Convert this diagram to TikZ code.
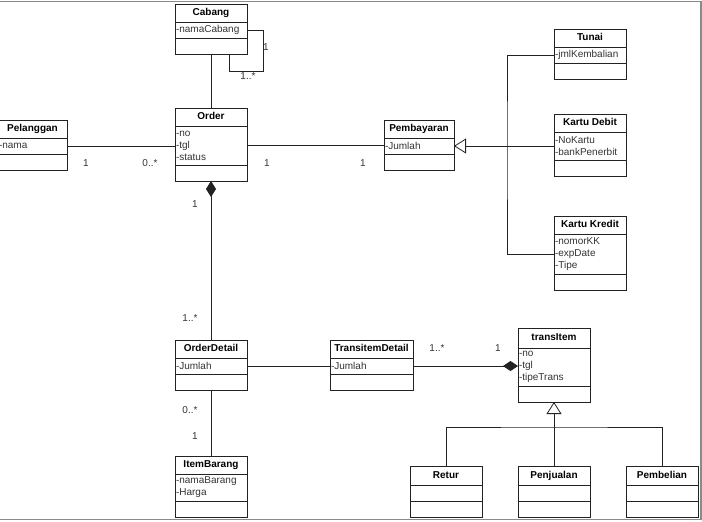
\documentclass[tikz,border=0pt]{standalone}
\usepackage{fontspec}
\setmainfont{Liberation Sans}
\usetikzlibrary{positioning, arrows.meta}
\definecolor{linegray}{HTML}{222222}
\definecolor{textgray}{HTML}{333333}
\definecolor{framegray}{HTML}{8A8A8A}
\tikzset{
    umltitle/.style={rectangle, draw=linegray, anchor=north west, font=\bfseries\fontsize{10}{12}\selectfont, text=black, minimum width=#1, minimum height=18pt, inner sep=0pt, outer sep=0pt, text height=7.5pt, text depth=2pt},
    umltitle/.default=72pt,
    umlattr/.style={rectangle, draw=linegray, font=\fontsize{10}{12}\selectfont, text=textgray, align=left, text width=#1, inner xsep=1pt, inner ysep=0pt, outer sep=0pt, minimum height=16pt},
    umlattr/.default=70pt,
    umlmeth/.style={rectangle, draw=linegray, minimum width=#1, minimum height=16pt, inner sep=0pt, outer sep=0pt},
    umlmeth/.default=72pt,
    mult/.style={font=\fontsize{10}{12}\selectfont, text=textgray, inner sep=0pt},
    assoc/.style={draw=linegray, line width=0.8pt},
}

\begin{document}
\begin{tikzpicture}[x=1pt, y=-1pt, line width=0.8pt]
        \useasboundingbox (0,0) rectangle (702,522);
        \clip (0,0) rectangle (702,522);

        % kelas
        \node[umltitle] (cabang) at (175,4) {Cabang};
        \node[umlattr, below=0pt of cabang] (cabang-a) {-namaCabang};
        \node[umlmeth, below=0pt of cabang-a] (cabang-m) {};

        \node[umltitle] (order) at (175,108) {Order};
        \node[umlattr, minimum height=39pt, below=0pt of order] (order-a) {-no\\-tgl\\-status};
        \node[umlmeth, below=0pt of order-a] (order-m) {};

        \node[umltitle=69pt] (pelanggan) at (-2,120) {Pelanggan};
        \node[umlattr=67pt, below=0pt of pelanggan] (pelanggan-a) {-nama};
        \node[umlmeth=69pt, below=0pt of pelanggan-a] (pelanggan-m) {};

        \node[umltitle=70pt] (pembayaran) at (384,120) {Pembayaran};
        \node[umlattr=68pt, below=0pt of pembayaran] (pembayaran-a) {-Jumlah};
        \node[umlmeth=70pt, below=0pt of pembayaran-a] (pembayaran-m) {};

        \node[umltitle] (tunai) at (554,29) {Tunai};
        \node[umlattr, below=0pt of tunai] (tunai-a) {-jmlKembalian};
        \node[umlmeth, below=0pt of tunai-a] (tunai-m) {};

        \node[umltitle] (debit) at (554,114) {Kartu Debit};
        \node[umlattr, minimum height=28pt, below=0pt of debit] (debit-a) {-NoKartu\\-bankPenerbit};
        \node[umlmeth, below=0pt of debit-a] (debit-m) {};

        \node[umltitle] (kredit) at (554,216) {Kartu Kredit};
        \node[umlattr, minimum height=40pt, below=0pt of kredit] (kredit-a) {-nomorKK\\-expDate\\-Tipe};
        \node[umlmeth, below=0pt of kredit-a] (kredit-m) {};

        \node[umltitle] (orderdetail) at (175,340) {OrderDetail};
        \node[umlattr, below=0pt of orderdetail] (orderdetail-a) {-Jumlah};
        \node[umlmeth, below=0pt of orderdetail-a] (orderdetail-m) {};

        \node[umltitle] (itembarang) at (175,456) {ItemBarang};
        \node[umlattr, minimum height=27pt, below=0pt of itembarang] (itembarang-a) {-namaBarang\\-Harga};
        \node[umlmeth, below=0pt of itembarang-a] (itembarang-m) {};

        \node[umltitle=83pt] (transitemdetail) at (330,340) {TransitemDetail};
        \node[umlattr=81pt, below=0pt of transitemdetail] (transitemdetail-a) {-Jumlah};
        \node[umlmeth=83pt, below=0pt of transitemdetail-a] (transitemdetail-m) {};

        \node[umltitle, minimum height=20pt] (transitem) at (518,328) {transItem};
        \node[umlattr, minimum height=38pt, below=0pt of transitem] (transitem-a) {-no\\-tgl\\-tipeTrans};
        \node[umlmeth, below=0pt of transitem-a] (transitem-m) {};

        \node[umltitle, minimum height=19pt] (retur) at (410,466) {Retur};
        \node[umlattr, below=0pt of retur] (retur-a) {};
        \node[umlmeth, below=0pt of retur-a] (retur-m) {};

        \node[umltitle, minimum height=19pt] (penjualan) at (518,466) {Penjualan};
        \node[umlattr, below=0pt of penjualan] (penjualan-a) {};
        \node[umlmeth, below=0pt of penjualan-a] (penjualan-m) {};

        \node[umltitle, minimum height=19pt] (pembelian) at (626,466) {Pembelian};
        \node[umlattr, below=0pt of pembelian] (pembelian-a) {};
        \node[umlmeth, below=0pt of pembelian-a] (pembelian-m) {};

        % relasi
        \coordinate (cabang-loop) at (263,71);
        \draw[assoc] (cabang-a.east) -| (cabang-loop) -| ([xshift=18pt]cabang-m.south);
        \draw[assoc] (cabang-m.south) -- (order.north);
        \draw[assoc] (pelanggan-a.east) -- (pelanggan-a.east -| order-a.west);
        \draw[assoc] (order-a.east) -- (order-a.east -| pembayaran-a.west);

        \coordinate (pay-bus) at (507,146);
        \draw[assoc, -{Triangle[open, length=12pt, width=15pt]}] (pay-bus) -- (pembayaran-a.east);
        \draw[assoc] (tunai-a.west) -| (pay-bus) |- (kredit-a.west);
        \draw[assoc] (debit-a.west) -- (pay-bus);

        \draw[assoc, {Diamond[length=16pt, width=10pt]}-] (order-m.south) -- (orderdetail.north);
        \draw[assoc] (orderdetail-m.south) -- (itembarang.north);
        \draw[assoc] (orderdetail-a.east) -- (orderdetail-a.east -| transitemdetail-a.west);
        \draw[assoc, -{Diamond[length=15pt, width=10pt]}] (transitemdetail-a.east) -- (transitemdetail-a.east -| transitem-a.west);

        \coordinate (trans-bus) at (554,427);
        \draw[assoc, -{Triangle[open, length=12pt, width=15pt]}] (trans-bus) -- (transitem-m.south);
        \draw[assoc] (retur.north) |- (trans-bus) -| (pembelian.north);
        \draw[assoc] (penjualan.north) -- (trans-bus);

        % multiplisitas
        \node[mult] (m-cabang1) at (266,47) {1};
        \node[mult] (m-cabang2) at (248,76) {1..*};
        \node[mult] (m-pelanggan) at (86,163) {1};
        \node[mult] (m-order1) at (150,163) {0..*};
        \node[mult] (m-order2) at (267,163) {1};
        \node[mult] (m-pembayaran) at (363,163) {1};
        \node[mult] (m-order3) at (195,204) {1};
        \node[mult] (m-orderdetail1) at (190,318) {1..*};
        \node[mult] (m-orderdetail2) at (190,410) {0..*};
        \node[mult] (m-itembarang) at (195,436) {1};
        \node[mult] (m-transitemdetail) at (437,348) {1..*};
        \node[mult] (m-transitem) at (498,348) {1};

        % bingkai
        \draw[framegray, line width=1.4pt] (0,1.5) -- (701,1.5) -- (701,519.5) -- (0,519.5);
    \end{tikzpicture}
\end{document}
